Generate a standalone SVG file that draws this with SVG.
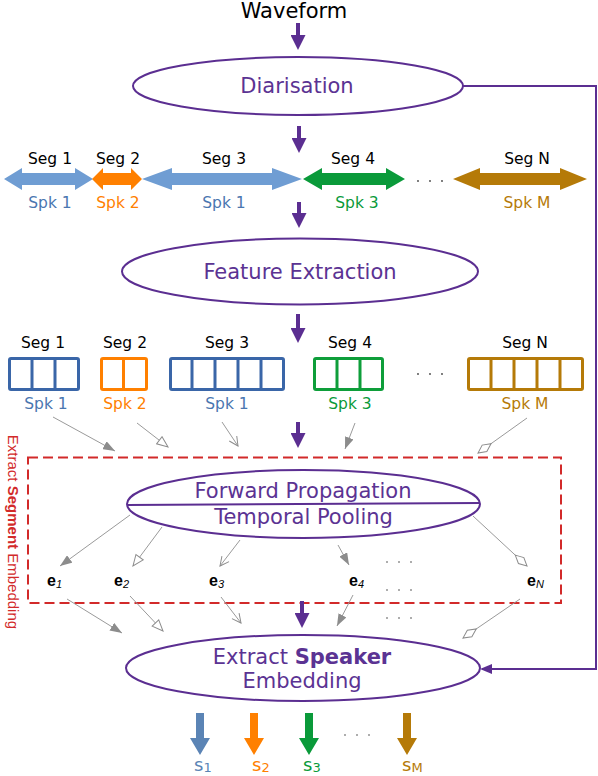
<svg xmlns="http://www.w3.org/2000/svg" width="598" height="776" viewBox="0 0 598 776">
<defs>
<style>
.t{font-family:"DejaVu Sans",sans-serif}
.big{font-size:21px;fill:#5B3393;text-anchor:middle}
.lbl{font-size:15.5px;text-anchor:middle}
.node{fill:none;stroke:#5B2E91;stroke-width:2}
.p{stroke:#5B2E91;stroke-width:4;fill:none;marker-end:url(#pHead)}
.g{stroke:#9a9a9a;stroke-width:1;fill:none}
.box{fill:#fff;stroke-width:3}
.dot{fill:#444}
.e{font-family:"Liberation Sans",sans-serif;font-size:16px;font-weight:bold;fill:#000}
.sub{font-style:italic;font-weight:normal;font-size:11px}
.s{font-family:"DejaVu Sans",sans-serif;font-size:18px}
.ssub{font-size:13px}
.blue{fill:#6F9DD3}.blueT{fill:#4A76B0}.blueS{stroke:#3A66A8}
.org{fill:#FF8000}.orgS{stroke:#FF8000}
.grn{fill:#0A9A3A}.grnS{stroke:#0E9E3A}
.brn{fill:#B57A08}.brnS{stroke:#B57A08}
.sblue{fill:#5B84B5}
</style>
<marker id="pHead" viewBox="0 0 15 15" refX="5" refY="7.5" markerWidth="15" markerHeight="15" markerUnits="userSpaceOnUse" orient="auto"><path d="M0,0 L15,7.5 L0,15 Z" fill="#5B2E91"/></marker>
<marker id="pHead2" viewBox="0 0 12 10" refX="10" refY="5" markerWidth="12" markerHeight="10" markerUnits="userSpaceOnUse" orient="auto"><path d="M0,0 L12,5 L0,10 Z" fill="#5B2E91"/></marker>
<marker id="gFill" viewBox="0 0 12 9" refX="12" refY="4.5" markerWidth="12" markerHeight="9" markerUnits="userSpaceOnUse" orient="auto"><path d="M0,0 L12,4.5 L0,9 Z" fill="#8c8c8c"/></marker>
<marker id="gOpen" viewBox="-1 -1 13 11" refX="11" refY="4.5" markerWidth="13" markerHeight="11" markerUnits="userSpaceOnUse" orient="auto"><path d="M0,0 L11,4.5 L0,9 Z" fill="#fff" stroke="#8c8c8c" stroke-width="1"/></marker>
<marker id="gV" viewBox="-1 -1 11 11" refX="9" refY="4.5" markerWidth="11" markerHeight="11" markerUnits="userSpaceOnUse" orient="auto"><path d="M0,0 L9,4.5 L0,9" fill="none" stroke="#8c8c8c" stroke-width="1"/></marker>
<marker id="gDia" viewBox="-1 -1 18 10" refX="16" refY="4" markerWidth="18" markerHeight="10" markerUnits="userSpaceOnUse" orient="auto"><path d="M0,4 L8,0 L16,4 L8,8 Z" fill="#fff" stroke="#8c8c8c" stroke-width="1"/></marker>
</defs>
<rect width="598" height="776" fill="#fff"/>

<g id="waveform"><text class="t" x="294" y="18" font-size="21" text-anchor="middle" fill="#000">Waveform</text></g>

<g id="diarisation">
<ellipse class="node" cx="298" cy="86" rx="165" ry="29"/>
<text class="t big" x="297" y="93">Diarisation</text>
</g>

<g id="segments-row">
<polygon class="blue" points="4,179 22,168 22,173 75,173 75,168 93,179 75,190 75,185 22,185 22,190"/>
<polygon class="org" points="92,179 103,168 103,173 131,173 131,168 142,179 131,190 131,185 103,185 103,190"/>
<polygon class="blue" points="142,179 172,168 172,173 272,173 272,168 302,179 272,190 272,185 172,185 172,190"/>
<polygon class="grn" points="303,179 322,168 322,173 386,173 386,168 405,179 386,190 386,185 322,185 322,190"/>
<polygon class="brn" points="453,179 480,168 480,173 560,173 560,168 587,179 560,190 560,185 480,185 480,190"/>
<circle class="dot" cx="418" cy="181" r="0.9"/><circle class="dot" cx="430" cy="181" r="0.9"/><circle class="dot" cx="442" cy="181" r="0.9"/>
<g class="t lbl" fill="#000">
<text x="50" y="164">Seg 1</text><text x="118" y="164">Seg 2</text><text x="224" y="164">Seg 3</text><text x="353" y="164">Seg 4</text><text x="527" y="164">Seg N</text>
</g>
<g class="t lbl">
<text class="blueT" x="50" y="208">Spk 1</text><text class="org" x="118" y="208">Spk 2</text><text class="blueT" x="224" y="208">Spk 1</text><text class="grn" x="357" y="208">Spk 3</text><text class="brn" x="527" y="208">Spk M</text>
</g>
</g>

<g id="feature-extraction">
<ellipse class="node" cx="300" cy="271.5" rx="178" ry="33"/>
<text class="t big" x="300" y="279">Feature Extraction</text>
</g>

<g id="feature-boxes">
<rect class="box blueS" x="9.5" y="358.5" width="69" height="31" rx="1.5"/>
<path class="blueS" stroke-width="3" d="M32,358.5V389.5M55,358.5V389.5"/>
<rect class="box orgS" x="101.5" y="358.5" width="45" height="31" rx="1.5"/>
<path class="orgS" stroke-width="3" d="M123.5,358.5V389.5"/>
<rect class="box blueS" x="170.5" y="358.5" width="113" height="31" rx="1.5"/>
<path class="blueS" stroke-width="3" d="M192,358.5V389.5M215,358.5V389.5M238,358.5V389.5M261,358.5V389.5"/>
<rect class="box grnS" x="314.5" y="358.5" width="68" height="31" rx="1.5"/>
<path class="grnS" stroke-width="3" d="M337,358.5V389.5M360,358.5V389.5"/>
<rect class="box brnS" x="468.5" y="358.5" width="114" height="31" rx="1.5"/>
<path class="brnS" stroke-width="3" d="M491,358.5V389.5M514,358.5V389.5M537,358.5V389.5M560,358.5V389.5"/>
<circle class="dot" cx="418" cy="374" r="0.9"/><circle class="dot" cx="430" cy="374" r="0.9"/><circle class="dot" cx="442" cy="374" r="0.9"/>
<g class="t lbl" fill="#000">
<text x="43" y="348">Seg 1</text><text x="125" y="348">Seg 2</text><text x="227" y="348">Seg 3</text><text x="350" y="348">Seg 4</text><text x="525" y="348">Seg N</text>
</g>
<g class="t lbl">
<text class="blueT" x="46" y="409">Spk 1</text><text class="org" x="125" y="409">Spk 2</text><text class="blueT" x="227" y="409">Spk 1</text><text class="grn" x="350" y="409">Spk 3</text><text class="brn" x="525" y="409">Spk M</text>
</g>
</g>

<g id="segment-embedding-box">
<rect x="28" y="457.5" width="533" height="145.5" fill="none" stroke="#D22A2A" stroke-width="2" stroke-dasharray="10 5"/>
<text font-family="Liberation Sans, sans-serif" font-size="15" fill="#D22A2A" text-anchor="middle" x="8" y="532" transform="rotate(90 8 532)">Extract <tspan font-weight="bold">Segment</tspan> Embedding</text>
</g>

<g id="forward-propagation">
<ellipse class="node" cx="303.5" cy="504" rx="176.5" ry="34"/>
<line x1="127" y1="505" x2="480" y2="503" stroke="#5B2E91" stroke-width="2"/>
<text class="t big" x="303" y="498">Forward Propagation</text>
<text class="t big" x="303.5" y="524">Temporal Pooling</text>
</g>

<g id="embeddings">
<text class="e" x="47" y="586">e<tspan class="sub" dy="2">1</tspan></text>
<text class="e" x="114" y="586">e<tspan class="sub" dy="2">2</tspan></text>
<text class="e" x="209" y="586">e<tspan class="sub" dy="2">3</tspan></text>
<text class="e" x="349" y="586">e<tspan class="sub" dy="2">4</tspan></text>
<text class="e" x="527" y="586">e<tspan class="sub" dy="2">N</tspan></text>
<g class="dot">
<circle cx="387" cy="562" r="0.8"/><circle cx="399" cy="562" r="0.8"/><circle cx="411" cy="562" r="0.8"/>
<circle cx="387" cy="590" r="0.8"/><circle cx="399" cy="590" r="0.8"/><circle cx="411" cy="590" r="0.8"/>
<circle cx="387" cy="618" r="0.8"/><circle cx="399" cy="618" r="0.8"/><circle cx="411" cy="618" r="0.8"/>
</g>
</g>

<g id="extract-speaker">
<ellipse class="node" cx="303" cy="668" rx="177" ry="33"/>
<text class="t big" x="302" y="664">Extract <tspan font-weight="bold">Speaker</tspan></text>
<text class="t big" x="302" y="688">Embedding</text>
</g>

<g id="outputs">
<polygon class="sblue" points="196,713 204,713 204,738 210,738 200,755 190,738 196,738"/>
<polygon class="org" points="250,713 258,713 258,738 264,738 254,755 244,738 250,738"/>
<polygon class="grn" points="305,713 313,713 313,738 319,738 309,755 299,738 305,738"/>
<polygon class="brn" points="403,713 411,713 411,738 417,738 407,755 397,738 403,738"/>
<circle class="dot" cx="345" cy="735" r="0.8"/><circle class="dot" cx="357" cy="735" r="0.8"/><circle class="dot" cx="369" cy="735" r="0.8"/>
<text class="s sblue" x="194" y="771">s<tspan class="ssub" dy="1">1</tspan></text>
<text class="s org" x="252" y="771">s<tspan class="ssub" dy="1">2</tspan></text>
<text class="s grn" x="303" y="771">s<tspan class="ssub" dy="1">3</tspan></text>
<text class="s brn" x="402" y="771">s<tspan class="ssub" dy="1">M</tspan></text>
</g>

<g id="connectors">
<line class="p" x1="298" y1="23" x2="298" y2="40"/>
<line class="p" x1="299" y1="126" x2="299" y2="143"/>
<line class="p" x1="299" y1="202" x2="299" y2="218"/>
<line class="p" x1="298" y1="314" x2="298" y2="333"/>
<line class="p" x1="298" y1="422" x2="298" y2="438"/>
<line class="p" x1="302" y1="601" x2="302" y2="618"/>
<polyline points="463,86 596,86 596,669 482,669" fill="none" stroke="#5B2E91" stroke-width="2" marker-end="url(#pHead2)"/>

<line class="g" x1="53" y1="417" x2="115" y2="451" marker-end="url(#gFill)"/>
<line class="g" x1="137" y1="423" x2="168" y2="447" marker-end="url(#gOpen)"/>
<line class="g" x1="222" y1="422" x2="238" y2="446" marker-end="url(#gV)"/>
<line class="g" x1="355" y1="423" x2="345" y2="449" marker-end="url(#gFill)"/>
<line class="g" x1="527" y1="418" x2="478" y2="453" marker-end="url(#gDia)"/>

<line class="g" x1="130" y1="515" x2="60" y2="566" marker-end="url(#gFill)"/>
<line class="g" x1="162" y1="527" x2="133" y2="566" marker-end="url(#gOpen)"/>
<line class="g" x1="240" y1="540" x2="220" y2="566" marker-end="url(#gV)"/>
<line class="g" x1="338" y1="545" x2="349" y2="565" marker-end="url(#gFill)"/>
<line class="g" x1="473" y1="516" x2="527" y2="566" marker-end="url(#gDia)"/>

<line class="g" x1="67" y1="599" x2="122" y2="633" marker-end="url(#gFill)"/>
<line class="g" x1="130" y1="596" x2="163" y2="631" marker-end="url(#gOpen)"/>
<line class="g" x1="221" y1="597" x2="241" y2="623" marker-end="url(#gV)"/>
<line class="g" x1="353" y1="595" x2="337" y2="626" marker-end="url(#gFill)"/>
<line class="g" x1="520" y1="599" x2="463" y2="638" marker-end="url(#gDia)"/>
</g>
</svg>
